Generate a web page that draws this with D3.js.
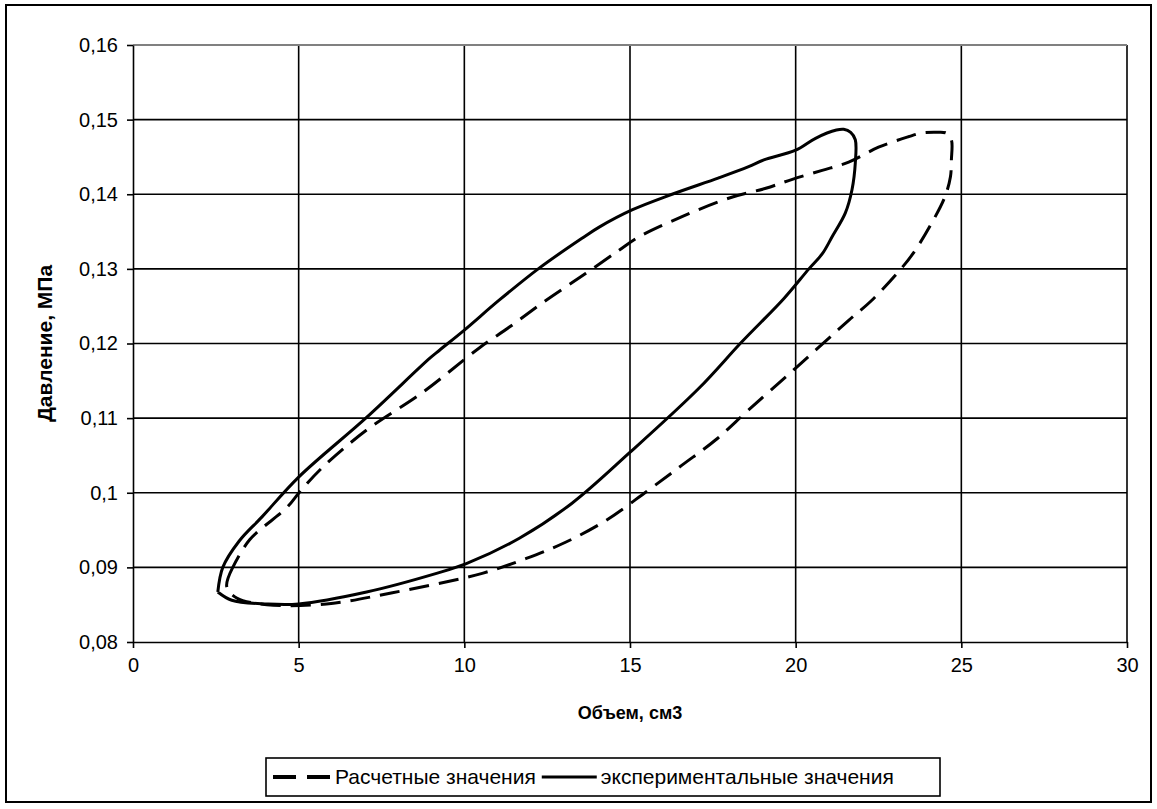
<!DOCTYPE html>
<html>
<head>
<meta charset="utf-8">
<script src="https://cdn.jsdelivr.net/npm/d3@7"></script>
<style>
  html, body { margin: 0; padding: 0; background: #fff; }
  svg { display: block; }
  text { font-family: "Liberation Sans", Arial, sans-serif; fill: #000; }
</style>
</head>
<body>
<svg id="chart" width="1157" height="809"></svg>
<script>
// ---- data ----
const xTicks = [0, 5, 10, 15, 20, 25, 30];
const yTicks = [0.08, 0.09, 0.1, 0.11, 0.12, 0.13, 0.14, 0.15, 0.16];
const yTickLabels = ["0,08", "0,09", "0,1", "0,11", "0,12", "0,13", "0,14", "0,15", "0,16"];
const seriesNames = ["Расчетные значения", "экспериментальные значения"];

// Расчетные значения (dashed)
const calcX = [3.0, 2.83, 3.13, 4.04, 5.84, 7.83, 10.54, 11.87, 13.07, 14.28, 15.48, 16.57, 17.59, 18.58, 20.0, 21.6, 22.3, 23.1, 23.55, 24.1, 24.5, 24.67, 24.7, 24.7, 24.55, 24.2, 23.8, 23.4, 22.5, 21.6, 20.8, 19.9, 19.1, 18.07, 16.57, 15.27, 14.67, 13.67, 12.47, 11.36, 10.45, 8.73, 7.05, 5.72, 5.03, 4.64, 3.52, 3.0];
const calcY = [0.0899, 0.0874, 0.0859, 0.0850, 0.0851, 0.0866, 0.0892, 0.0912, 0.0934, 0.0963, 0.1001, 0.1037, 0.1071, 0.1111, 0.1167, 0.1231, 0.1258, 0.1296, 0.1321, 0.1361, 0.1396, 0.1423, 0.1446, 0.1473, 0.1482, 0.1483, 0.1482, 0.1477, 0.1463, 0.1443, 0.1432, 0.1420, 0.1408, 0.1396, 0.1370, 0.1343, 0.1325, 0.1294, 0.1258, 0.1222, 0.1194, 0.1134, 0.1084, 0.1034, 0.1001, 0.0980, 0.0937, 0.0899];

// экспериментальные значения (solid)
const expX = [2.56, 2.98, 4.04, 5.0, 7.05, 9.16, 10.06, 11.66, 13.25, 14.97, 17.08, 18.37, 19.64, 20.4, 20.8, 21.1, 21.5, 21.7, 21.8, 21.8, 21.66, 21.45, 21.23, 20.6, 20.0, 19.04, 18.58, 17.68, 16.27, 15.06, 14.07, 13.55, 12.26, 11.05, 10.0, 9.25, 8.95, 7.05, 5.0, 3.9, 3.2, 2.71, 2.56];
const expY = [0.0867, 0.0856, 0.0851, 0.0851, 0.0867, 0.0892, 0.0905, 0.0939, 0.0986, 0.1053, 0.1140, 0.1202, 0.1260, 0.1300, 0.1320, 0.1343, 0.1375, 0.1406, 0.1442, 0.1473, 0.1483, 0.1487, 0.1486, 0.1475, 0.1459, 0.1446, 0.1437, 0.1422, 0.1400, 0.1379, 0.1356, 0.1341, 0.1301, 0.1258, 0.1218, 0.1191, 0.1180, 0.1101, 0.1021, 0.0968, 0.0935, 0.0900, 0.0867];

// ---- layout ----
const svg = d3.select("#chart");
const plot = { left: 133, right: 1127, top: 45, bottom: 642 };

const x = d3.scaleLinear().domain([0, 30]).range([plot.left, plot.right]);
const y = d3.scaleLinear().domain([0.08, 0.16]).range([plot.bottom, plot.top]);

// outer frame
svg.append("rect").attr("x", 6).attr("y", 5).attr("width", 1145).attr("height", 797)
  .attr("fill", "#fff").attr("stroke", "#000").attr("stroke-width", 2);

// gridlines
const grid = svg.append("g");
grid.selectAll("line.v").data(xTicks.slice(1)).join("line")
  .attr("x1", d => x(d)).attr("x2", d => x(d))
  .attr("y1", plot.top).attr("y2", plot.bottom)
  .attr("stroke", "#000").attr("stroke-width", 1.6);
grid.selectAll("line.h").data(yTicks.slice(1)).join("line")
  .attr("x1", plot.left).attr("x2", plot.right)
  .attr("y1", d => y(d)).attr("y2", d => y(d))
  .attr("stroke", d => d === 0.16 ? "#808080" : "#000").attr("stroke-width", d => d === 0.16 ? 2 : 1.6);

// axes
const xAxis = d3.axisBottom(x).tickValues(xTicks).tickSize(6).tickSizeOuter(0).tickPadding(10);
const yAxis = d3.axisLeft(y).tickValues(yTicks).tickSize(6).tickSizeOuter(0).tickPadding(9)
  .tickFormat((d, i) => yTickLabels[i]);

const gx = svg.append("g").attr("transform", `translate(0,${plot.bottom})`).call(xAxis);
const gy = svg.append("g").attr("transform", `translate(${plot.left},0)`).call(yAxis);
[gx, gy].forEach(g => {
  g.select(".domain").attr("stroke", "#000").attr("stroke-width", 1.6);
  g.selectAll(".tick line").attr("stroke", "#000").attr("stroke-width", 1.6);
  g.selectAll(".tick text").style("font-size", "20px").style("font-family", '"Liberation Sans", Arial, sans-serif').attr("fill", "#000");
});

// axis titles
svg.append("text").attr("x", (plot.left + plot.right) / 2).attr("y", 719)
  .attr("text-anchor", "middle").style("font-size", "18px").style("font-weight", "bold")
  .text("Объем, см3");
svg.append("text").attr("transform", `translate(52,${(plot.top + plot.bottom) / 2}) rotate(-90)`)
  .attr("text-anchor", "middle").style("font-size", "21px").style("font-weight", "bold")
  .text("Давление, МПа");

// series
const line = d3.line().x(d => x(d[0])).y(d => y(d[1])).curve(d3.curveCatmullRom.alpha(0.5));
const calcData = calcX.map((v, i) => [v, calcY[i]]);
const expData = expX.map((v, i) => [v, expY[i]]);

svg.append("path").datum(expData).attr("d", line)
  .attr("fill", "none").attr("stroke", "#000").attr("stroke-width", 3).attr("stroke-linejoin", "round");
svg.append("path").datum(calcData).attr("d", line)
  .attr("fill", "none").attr("stroke", "#000").attr("stroke-width", 3).attr("stroke-dasharray", "20,10");

// legend
const lg = svg.append("g");
const box = lg.append("rect").attr("x", 266).attr("y", 758).attr("width", 674).attr("height", 38)
  .attr("fill", "#fff").attr("stroke", "#000").attr("stroke-width", 1.6);
let cx = 273;
lg.append("line").attr("x1", cx).attr("x2", cx + 57).attr("y1", 777).attr("y2", 777)
  .attr("stroke", "#000").attr("stroke-width", 4).attr("stroke-dasharray", "23,11");
cx += 62;
const t1 = lg.append("text").attr("x", cx).attr("y", 784).style("font-size", "21px").text(seriesNames[0]);
cx += t1.node().getComputedTextLength() + 6;
lg.append("line").attr("x1", cx).attr("x2", cx + 55).attr("y1", 777).attr("y2", 777)
  .attr("stroke", "#000").attr("stroke-width", 3);
cx += 59;
const t2 = lg.append("text").attr("x", cx).attr("y", 784).style("font-size", "21px").text(seriesNames[1]);
</script>
</body>
</html>
